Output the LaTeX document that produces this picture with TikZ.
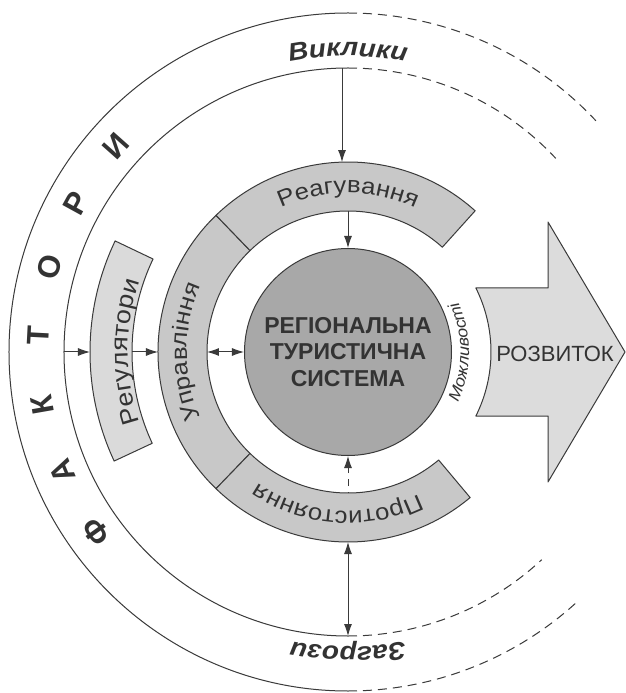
\documentclass[tikz,border=0pt]{standalone}
\usepackage{fontspec}
\setmainfont{Liberation Sans}
\newfontfamily\wsans[FakeStretch=1.12]{Liberation Sans}
\usetikzlibrary{arrows.meta,decorations.text}
\definecolor{linec}{HTML}{3A3A3A}
\definecolor{txt}{HTML}{333333}
\definecolor{ringc}{HTML}{C8C8C8}
\definecolor{regc}{HTML}{DADADA}
\definecolor{sysc}{HTML}{A8A8A8}
\definecolor{arrc}{HTML}{DCDCDC}
\begin{document}
\begin{tikzpicture}[x=1pt,y=1pt,line join=round,
  lin/.style={draw=linec,line width=1pt},
  arr/.style={draw=linec,line width=1pt,-{Latex[length=12pt,width=8pt]}},
  darr/.style={draw=linec,line width=1pt,{Latex[length=12pt,width=8pt]}-{Latex[length=12pt,width=8pt]}},
  dsh/.style={draw=linec,line width=1pt,dash pattern=on 9pt off 6pt},
  letter/.style={font=\fontsize{31}{32}\selectfont\bfseries,text=txt,inner sep=0pt},
  arctext/.style={decorate,decoration={text along path,text align=center,text color=txt,text={#1}}}
]
\useasboundingbox (-348,-341) rectangle (278,352);
\fill[white] (-348,-341) rectangle (278,352);

% factor band
\draw[lin] (90:339) arc (90:270:339);
\draw[lin] (90:284) arc (90:270:284);
\draw[dsh] (90:339) arc (90:43:339);
\draw[dsh] (90:284) arc (90:43:284);
\draw[dsh] (270:339) arc (270:313:339);
\draw[dsh] (270:284) arc (270:313:284);

\foreach \ch [count=\i from 0] in {Ф,А,К,Т,О,Р,И}{
  \pgfmathsetmacro\ang{215.6-12.87*\i}
  \node[letter,rotate=\ang-90] (f\i) at (\ang:310) {\ch};
}
\path[arctext={|\wsans\bfseries\itshape\fontsize{25}{29}\selectfont|Виклики}] (120:296) arc (120:60:296);
\path[arctext={|\wsans\bfseries\itshape\fontsize{25}{29}\selectfont|Загрози}] (300:295) arc (300:240:295);

% regulators
\draw[lin,fill=regc] (154.5:258) arc (154.5:205:258) -- (205:216) arc (205:154.5:216) -- cycle;
\path[arctext={|\wsans\fontsize{24}{28}\selectfont|Регулятори}] (206:220) arc (206:154:220);

% ring
\draw[lin,fill=ringc] (134:190) arc (134:226:190) -- (226:141) arc (226:134:141) -- cycle;
\draw[lin,fill=ringc] (48:190) arc (48:134:190) -- (134:141) arc (134:48:141) -- cycle;
\draw[lin,fill=ringc] (226:190) arc (226:310:190) -- (310:141) arc (310:226:141) -- cycle;
\path[arctext={|\wsans\fontsize{23}{27}\selectfont|Управління}] (225:161) arc (225:135:161);
\path[arctext={|\wsans\fontsize{23}{27}\selectfont|Реагування}] (126:159) arc (126:54:159);
\path[arctext={|\wsans\fontsize{23}{27}\selectfont|Протистояння}] (306:159) arc (306:226:159);

% development arrow
\draw[lin,fill=arrc] (26.6:143) -- (200,64) -- (200,130) -- (277,0) -- (200,-130) -- (200,-64) -- (-26.6:143) arc (-26.6:26.6:143) -- cycle;
\node[font=\fontsize{22}{26}\selectfont,text=txt] (dev) at (207,-2) {РОЗВИТОК};
\path[arctext={|\wsans\itshape\fontsize{16}{19}\selectfont|Можливості}] (-26:121) arc (-26:26:121);

% system
\node[circle,draw=linec,line width=1pt,fill=sysc,minimum size=207pt,inner sep=0pt,align=center,
  font=\fontsize{23}{26.5}\selectfont\bfseries,text=txt] (sys) at (0,0) {РЕГІОНАЛЬНА\\ТУРИСТИЧНА\\СИСТЕМА};

% connection points
\coordinate (fin) at (180:284);
\coordinate (regO) at (180:258);
\coordinate (regI) at (180:216);
\coordinate (ringOL) at (180:190);
\coordinate (ringIL) at (180:141);
\coordinate (finT) at (-6,283.9);
\coordinate (reaO) at (-6,189.9);
\coordinate (reaI) at (90:141);
\coordinate (proI) at (270:141);
\coordinate (proO) at (270:190);
\coordinate (finB) at (270:284);

\draw[arr] (fin) -- (regO);
\draw[arr] (regI) -- (ringOL);
\draw[darr] (ringIL) -- (sys.west);
\draw[arr] (finT) -- (reaO);
\draw[arr] (reaI) -- (sys.north);
\draw[arr,dash pattern=on 7pt off 6pt,dash phase=6pt] (proI) -- (sys.south);
\draw[darr] (proO) -- (finB);
\end{tikzpicture}
\end{document}
